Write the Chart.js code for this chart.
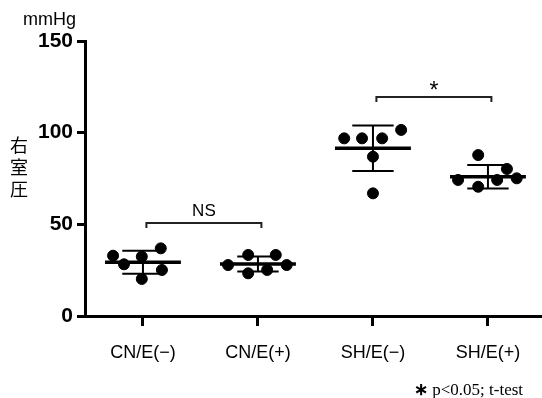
<!DOCTYPE html>
<html>
<head>
<meta charset="utf-8">
<script src="https://cdn.jsdelivr.net/npm/chart.js@4/dist/chart.umd.min.js"></script>
<style>
  body { margin: 0; background: #fff; }
  #wrap { position: relative; width: 542px; height: 398px; }
  .lbl { position: absolute; color: #000; white-space: nowrap; }
  #unit { left: 23px; top: 9px; font: 18px "Liberation Sans", Arial, sans-serif; }
  #ytitle { left: 9px; top: 133px; width: 20px; font: 18px "Noto Sans CJK JP", sans-serif; line-height: 22px; text-align: center; }
  #note { left: 414px; top: 379px; font: 17px "Liberation Serif", serif; }
</style>
</head>
<body>
<div id="wrap">
  <canvas id="mycanvas" width="542" height="398"></canvas>
  <div class="lbl" id="unit">mmHg</div>
  <div class="lbl" id="ytitle">右<br>室<br>圧</div>
  <div class="lbl" id="note"><b>∗</b> p&lt;0.05; t-test</div>
</div>
<script>
var groups = ['CN/E(−)', 'CN/E(+)', 'SH/E(−)', 'SH/E(+)'];
var yTicks = [0, 50, 100, 150];

// individual values (mmHg) per group
var cnMinus = [32.9, 28.2, 32.4, 36.9, 25.1, 20.2];
var cnPlus  = [27.8, 33.3, 23.3, 25.1, 33.3, 27.8];
var shMinus = [96.9, 96.9, 96.9, 101.5, 86.9, 66.9];
var shPlus  = [87.8, 80.2, 74.2, 70.5, 74.2, 75.1];

// horizontal scatter of dots within a group
var cnMinusJit = [-0.26, -0.165, -0.01, 0.155, 0.165, -0.01];
var cnPlusJit  = [-0.26, -0.085, -0.085, 0.08, 0.155, 0.25];
var shMinusJit = [-0.25, -0.095, 0.08, 0.245, 0, 0];
var shPlusJit  = [-0.085, 0.165, -0.26, -0.085, 0.08, 0.25];

// mean and SD per group
var means = [29.3, 28.4, 91.5, 76.0];
var sds   = [6.3, 4.1, 12.4, 6.4];

// significance brackets
var brackets = [
	{from: 0, to: 1, y: 50.7, text: 'NS'},
	{from: 2, to: 3, y: 119.5, text: '*'}
];

var allVals = [cnMinus, cnPlus, shMinus, shPlus];
var allJit = [cnMinusJit, cnPlusJit, shMinusJit, shPlusJit];

var points = [];
for (var g = 0; g < allVals.length; g++) {
	for (var i = 0; i < allVals[g].length; i++) {
		points.push({x: g + allJit[g][i], y: allVals[g][i]});
	}
}

var errorBars = {
	id: 'errorBars',
	afterDatasetsDraw: function(chart) {
		var ctx = chart.ctx;
		var xs = chart.scales.x, ys = chart.scales.y;
		ctx.save();
		ctx.strokeStyle = '#000';
		for (var g = 0; g < means.length; g++) {
			var cx = xs.getPixelForValue(g);
			var m = ys.getPixelForValue(means[g]);
			var hi = ys.getPixelForValue(means[g] + sds[g]);
			var lo = ys.getPixelForValue(means[g] - sds[g]);
			var capL = xs.getPixelForValue(g - 0.18), capR = xs.getPixelForValue(g + 0.18);
			ctx.lineWidth = 2;
			ctx.beginPath();
			ctx.moveTo(cx, hi); ctx.lineTo(cx, lo);
			ctx.moveTo(capL, hi); ctx.lineTo(capR, hi);
			ctx.moveTo(capL, lo); ctx.lineTo(capR, lo);
			ctx.stroke();
			ctx.lineWidth = 3.5;
			ctx.beginPath();
			ctx.moveTo(xs.getPixelForValue(g - 0.33), m);
			ctx.lineTo(xs.getPixelForValue(g + 0.33), m);
			ctx.stroke();
		}
		// brackets
		ctx.lineWidth = 2;
		ctx.strokeStyle = '#222';
		ctx.fillStyle = '#000';
		ctx.textAlign = 'center';
		ctx.textBaseline = 'alphabetic';
		brackets.forEach(function(b) {
			var x1 = xs.getPixelForValue(b.from + 0.03);
			var x2 = xs.getPixelForValue(b.to + 0.03);
			var y = ys.getPixelForValue(b.y);
			ctx.beginPath();
			ctx.moveTo(x1, y + 5); ctx.lineTo(x1, y); ctx.lineTo(x2, y); ctx.lineTo(x2, y + 5);
			ctx.stroke();
			ctx.font = b.text == '*' ? '23px "Liberation Sans", Arial' : '17px "Liberation Sans", Arial';
			ctx.fillText(b.text, (x1 + x2) / 2, b.text == '*' ? y + 1 : y - 7);
		});
		ctx.restore();
	}
};

var ctx = document.getElementById('mycanvas');
new Chart(ctx, {
	type: 'scatter',
	data: {
		datasets: [{
			data: points,
			backgroundColor: '#000',
			borderColor: '#000',
			pointRadius: 5.5,
			pointHoverRadius: 5.5
		}]
	},
	options: {
		responsive: false,
		animation: false,
		events: [],
		layout: {autoPadding: false, padding: {top: 41, right: 0, left: 0, bottom: 0}},
		plugins: {legend: {display: false}, tooltip: {enabled: false}},
		scales: {
			x: {
				type: 'linear',
				min: -0.504,
				max: 3.47,
				afterBuildTicks: function(scale) {
					scale.ticks = groups.map(function(n, i) { return {value: i}; });
				},
				afterFit: function(scale) {
					scale.height = 82;
					scale.paddingLeft = 0;
					scale.paddingRight = 0;
				},
				ticks: {
					callback: function(v) { return groups[v]; },
					color: '#000',
					font: {family: '"Liberation Sans", Arial', size: 18},
					padding: 16,
					maxRotation: 0,
					autoSkip: false
				},
				grid: {drawOnChartArea: false, tickLength: 10, tickWidth: 3, tickColor: '#000'},
				border: {display: true, width: 3, color: '#000'}
			},
			y: {
				min: 0,
				max: 150,
				afterBuildTicks: function(scale) {
					scale.ticks = yTicks.map(function(v) { return {value: v}; });
				},
				afterFit: function(scale) { scale.width = 85; },
				ticks: {
					color: '#000',
					font: {family: '"Liberation Sans", Arial', size: 21, weight: 'bold'},
					padding: 4
				},
				grid: {drawOnChartArea: false, tickLength: 8, tickWidth: 3, tickColor: '#000'},
				border: {display: true, width: 3, color: '#000'}
			}
		}
	},
	plugins: [errorBars]
});
</script>
</body>
</html>
